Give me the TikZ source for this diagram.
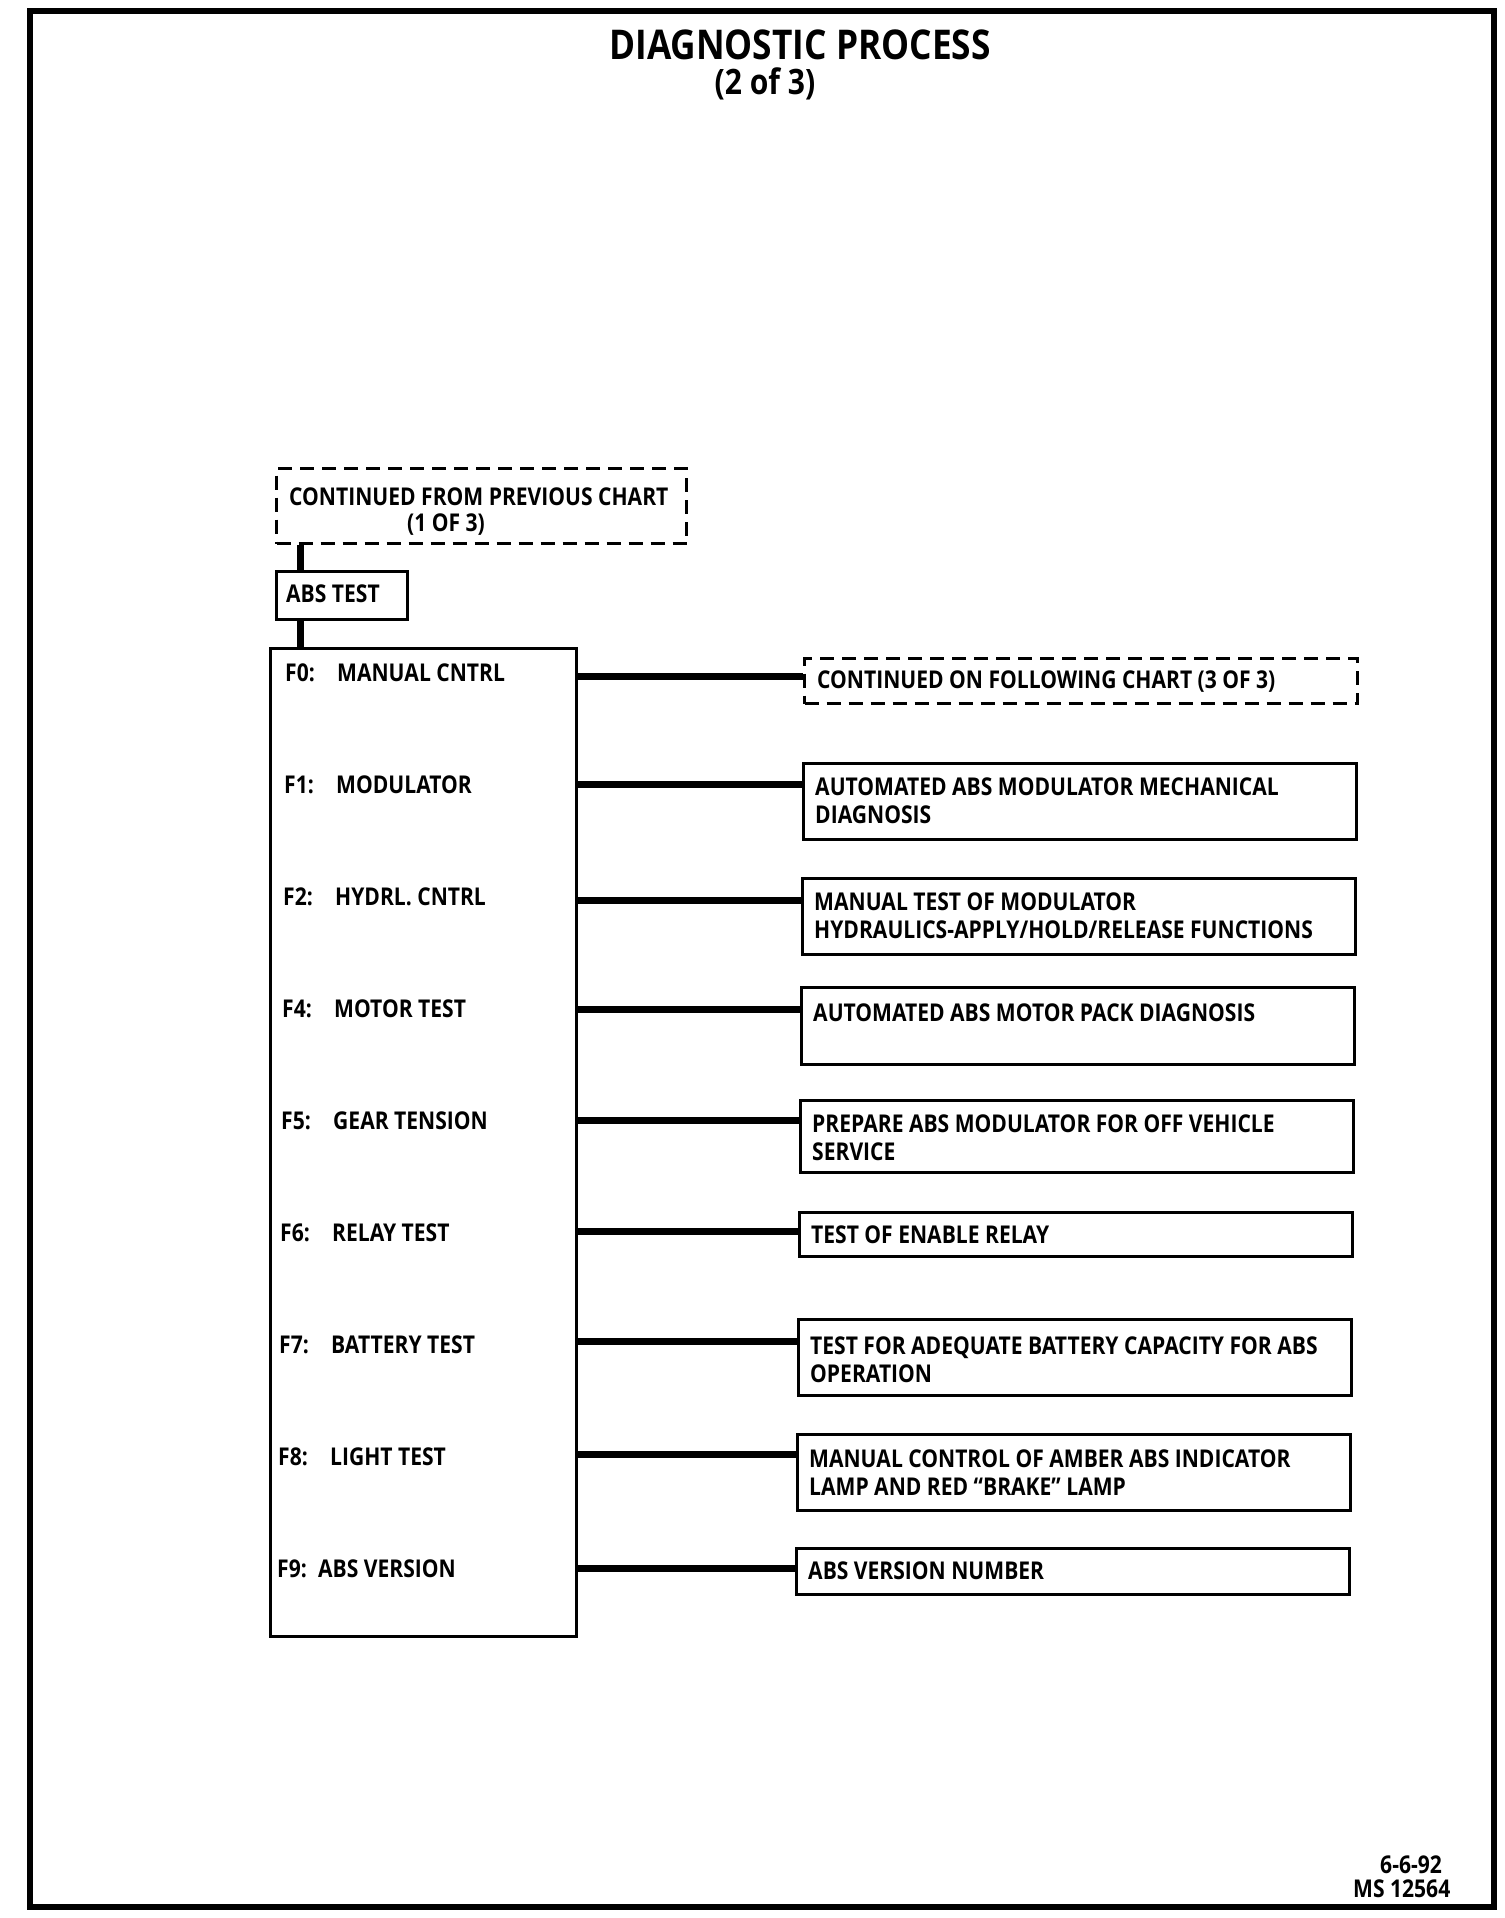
\documentclass[tikz,border=0pt]{standalone}
\usepackage{fontspec}
\newfontfamily\chartfont{Open Sans}[FakeStretch=0.86]
\begin{document}
\begin{tikzpicture}[x=1pt,y=-1pt,
  frame/.style={line width=6pt},
  box/.style={draw, line width=3pt, inner sep=0pt, anchor=north west},
  dbox/.style={box, dash pattern=on 14pt off 8pt},
  conn/.style={line width=7pt},
  txt/.style={anchor=base west, inner sep=0pt, font=\chartfont\bfseries\fontsize{24.5}{28}\selectfont},
  title/.style={anchor=base, inner sep=0pt, font=\chartfont\bfseries\fontsize{41}{46}\selectfont},
  subtitle/.style={anchor=base, inner sep=0pt, font=\chartfont\bfseries\fontsize{35}{40}\selectfont},
]
\useasboundingbox (0,0) rectangle (1504,1918);
\fill[white] (0,0) rectangle (1504,1918);
\draw[frame] (30,11) rectangle (1494,1907);

% titles
\node[title] (ttl) at (800,60) {DIAGNOSTIC PROCESS};
\node[subtitle] (sub) at (765,95) {(2 of 3)};

% top chain
\node[dbox, minimum width=410pt, minimum height=75pt] (prev) at (275,467) {};
\node[txt] (prevA) at (289,505) {CONTINUED FROM PREVIOUS CHART};
\node[txt] (prevB) at (407,531) {(1 OF 3)};
\node[box, minimum width=131pt, minimum height=48pt] (abs) at (275,570) {};
\node[txt] (absT) at (286,602) {ABS TEST};
\node[box, minimum width=306pt, minimum height=988pt] (main) at (269,647) {};
\coordinate (vx) at (300,0);
\draw[conn] (prev.south -| vx) -- (abs.north -| vx);
\draw[conn] (abs.south -| vx) -- (main.north -| vx);

% left labels
\node[txt] (f0) at (285,681) {\makebox[52pt][l]{F0:}MANUAL CNTRL};
\node[txt] (f1) at (284,793) {\makebox[52pt][l]{F1:}MODULATOR};
\node[txt] (f2) at (283,905) {\makebox[52pt][l]{F2:}HYDRL. CNTRL};
\node[txt] (f4) at (282,1017) {\makebox[52pt][l]{F4:}MOTOR TEST};
\node[txt] (f5) at (281,1129) {\makebox[52pt][l]{F5:}GEAR TENSION};
\node[txt] (f6) at (280,1241) {\makebox[52pt][l]{F6:}RELAY TEST};
\node[txt] (f7) at (279,1353) {\makebox[52pt][l]{F7:}BATTERY TEST};
\node[txt] (f8) at (278,1465) {\makebox[52pt][l]{F8:}LIGHT TEST};
\node[txt] (f9) at (277,1577) {\makebox[41pt][l]{F9:}ABS VERSION};

% right boxes
\node[dbox, minimum width=553pt, minimum height=45pt] (b0) at (803,657) {};
\node[box, minimum width=553pt, minimum height=76pt] (b1) at (802,762) {};
\node[box, minimum width=553pt, minimum height=76pt] (b2) at (801,877) {};
\node[box, minimum width=553pt, minimum height=77pt] (b3) at (800,986) {};
\node[box, minimum width=553pt, minimum height=72pt] (b4) at (799,1099) {};
\node[box, minimum width=553pt, minimum height=44pt] (b5) at (798,1211) {};
\node[box, minimum width=553pt, minimum height=76pt] (b6) at (797,1318) {};
\node[box, minimum width=553pt, minimum height=76pt] (b7) at (796,1433) {};
\node[box, minimum width=553pt, minimum height=46pt] (b8) at (795,1547) {};

\node[txt] (t0) at (817,688) {CONTINUED ON FOLLOWING CHART (3 OF 3)};
\node[txt] (t1a) at (815,795) {AUTOMATED ABS MODULATOR MECHANICAL};
\node[txt] (t1b) at (815,823) {DIAGNOSIS};
\node[txt] (t2a) at (814,910) {MANUAL TEST OF MODULATOR};
\node[txt] (t2b) at (814,938) {HYDRAULICS-APPLY/HOLD/RELEASE FUNCTIONS};
\node[txt] (t3) at (813,1021) {AUTOMATED ABS MOTOR PACK DIAGNOSIS};
\node[txt] (t4a) at (812,1132) {PREPARE ABS MODULATOR FOR OFF VEHICLE};
\node[txt] (t4b) at (812,1160) {SERVICE};
\node[txt] (t5) at (811,1243) {TEST OF ENABLE RELAY};
\node[txt] (t6a) at (810,1354) {TEST FOR ADEQUATE BATTERY CAPACITY FOR ABS};
\node[txt] (t6b) at (810,1382) {OPERATION};
\node[txt] (t7a) at (809,1467) {MANUAL CONTROL OF AMBER ABS INDICATOR};
\node[txt] (t7b) at (809,1495) {LAMP AND RED \textquotedblleft BRAKE\textquotedblright\ LAMP};
\node[txt] (t8) at (808,1579) {ABS VERSION NUMBER};

% connectors
\coordinate (y0) at (0,676);
\coordinate (y1) at (0,784);
\coordinate (y2) at (0,900);
\coordinate (y3) at (0,1009);
\coordinate (y4) at (0,1120);
\coordinate (y5) at (0,1231);
\coordinate (y6) at (0,1341);
\coordinate (y7) at (0,1454);
\coordinate (y8) at (0,1568);
\foreach \i in {0,...,8} {
  \draw[conn] (main.east |- y\i) -- (b\i.west |- y\i);
}

% footer
\node[txt] (d1) at (1380,1873) {6-6-92};
\node[txt] (d2) at (1353,1897) {MS 12564};
\end{tikzpicture}
\end{document}
